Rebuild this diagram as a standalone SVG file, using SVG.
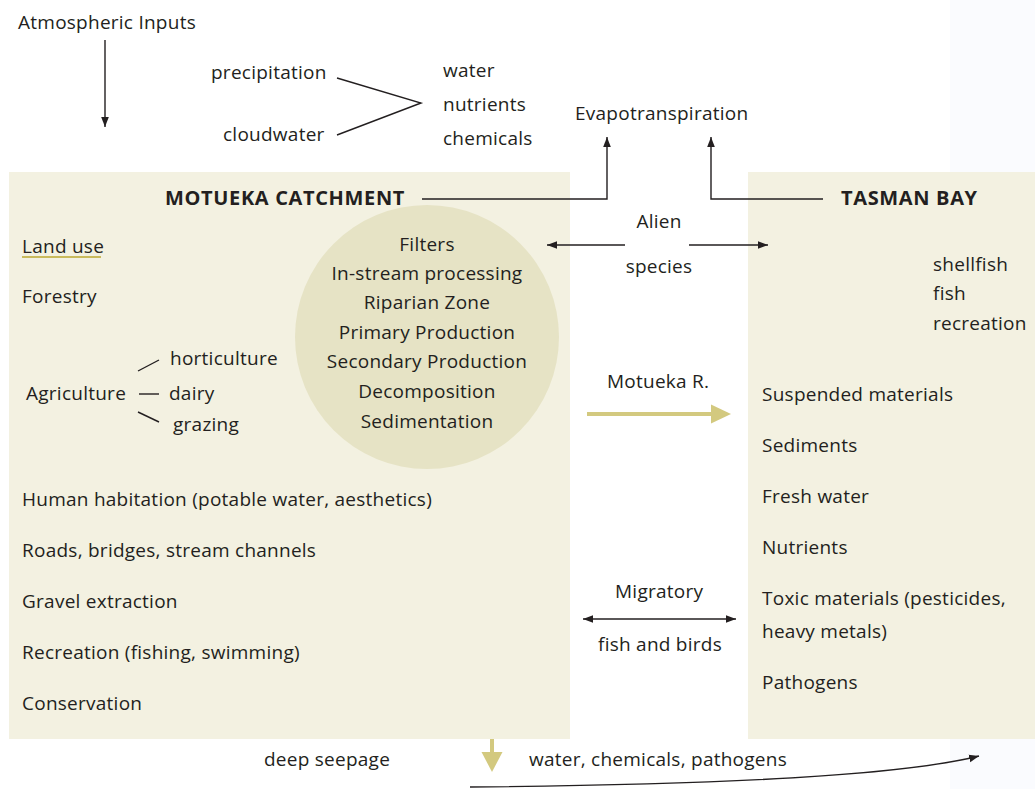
<svg xmlns="http://www.w3.org/2000/svg" width="1035" height="789" viewBox="0 0 1035 789">
<defs>
<style>
text{font-family:"Open Sans","Noto Sans","Liberation Sans",sans-serif;font-size:19px;fill:#231f20;letter-spacing:0.25px}
.b{font-weight:bold;font-size:20px;letter-spacing:0.65px}
.m{text-anchor:middle}
.ln{stroke:#231f20;stroke-width:1.4;fill:none}
.g{stroke:#d3c97f;stroke-width:4;fill:none}
</style>
<marker id="ah" viewBox="0 0 10 10" refX="10" refY="5" markerWidth="10" markerHeight="10" markerUnits="userSpaceOnUse" orient="auto-start-reverse">
<path d="M0,1.2 L10,5 L0,8.8 Z" fill="#231f20"/>
</marker>
</defs>
<rect x="0" y="0" width="1035" height="789" fill="#ffffff"/>
<rect x="950" y="0" width="85" height="789" fill="#fafbfe"/>
<g id="motueka-catchment">
<rect x="9" y="172" width="561" height="567" fill="#f3f1e1"/>
<text class="b" x="165" y="205">MOTUEKA CATCHMENT</text>
<text x="22" y="253">Land use</text>
<line x1="22" y1="257" x2="101" y2="257" stroke="#bba72f" stroke-width="1.3"/>
<text x="22" y="303">Forestry</text>
<text x="26" y="400">Agriculture</text>
<text x="170" y="365">horticulture</text>
<text x="169" y="400">dairy</text>
<text x="173" y="431">grazing</text>
<line class="ln" x1="138" y1="371" x2="159" y2="360"/>
<line class="ln" x1="139" y1="394" x2="159" y2="394"/>
<line class="ln" x1="138" y1="412" x2="159" y2="422"/>
<text x="22" y="506">Human habitation (potable water, aesthetics)</text>
<text x="22" y="557">Roads, bridges, stream channels</text>
<text x="22" y="608">Gravel extraction</text>
<text x="22" y="659">Recreation (fishing, swimming)</text>
<text x="22" y="710">Conservation</text>
</g>
<g id="filters">
<circle cx="427" cy="337" r="132" fill="#e6e3c5"/>
<text class="m" x="427" y="251">Filters</text>
<text class="m" x="427" y="280">In-stream processing</text>
<text class="m" x="427" y="309">Riparian Zone</text>
<text class="m" x="427" y="339">Primary Production</text>
<text class="m" x="427" y="368">Secondary Production</text>
<text class="m" x="427" y="398">Decomposition</text>
<text class="m" x="427" y="428">Sedimentation</text>
</g>
<g id="tasman-bay">
<rect x="748" y="172" width="287" height="567" fill="#f3f1e1"/>
<text class="b" x="841" y="205">TASMAN BAY</text>
<text x="933" y="271">shellfish</text>
<text x="933" y="300">fish</text>
<text x="933" y="330">recreation</text>
<text x="762" y="401">Suspended materials</text>
<text x="762" y="452">Sediments</text>
<text x="762" y="503">Fresh water</text>
<text x="762" y="554">Nutrients</text>
<text x="762" y="605">Toxic materials (pesticides,</text>
<text x="762" y="638">heavy metals)</text>
<text x="762" y="689">Pathogens</text>
</g>
<g id="atmospheric-inputs">
<text x="18" y="29">Atmospheric Inputs</text>
<text x="211" y="79">precipitation</text>
<text x="223" y="141">cloudwater</text>
<text x="443" y="77">water</text>
<text x="443" y="111">nutrients</text>
<text x="443" y="145">chemicals</text>
</g>
<g id="evapotranspiration">
<text x="575" y="120">Evapotranspiration</text>
</g>
<g id="labels">
<text class="m" x="659" y="228">Alien</text>
<text class="m" x="659" y="273">species</text>
<text x="607" y="388">Motueka R.</text>
<text x="615" y="598">Migratory</text>
<text x="598" y="651">fish and birds</text>
<text x="264" y="766">deep seepage</text>
<text x="529" y="766">water, chemicals, pathogens</text>
</g>
<g id="connectors">
<line class="ln" x1="105" y1="40" x2="105" y2="127" marker-end="url(#ah)"/>
<polyline class="ln" points="337,78 421,103 337,135"/>
<polyline class="ln" points="422,199 607,199 607,137" marker-end="url(#ah)"/>
<polyline class="ln" points="823,199 711,199 711,137" marker-end="url(#ah)"/>
<line class="ln" x1="625" y1="245" x2="547" y2="245" marker-end="url(#ah)"/>
<line class="ln" x1="689" y1="245" x2="768" y2="245" marker-end="url(#ah)"/>
<line class="ln" x1="583" y1="619" x2="736" y2="619" marker-start="url(#ah)" marker-end="url(#ah)"/>
<line class="g" x1="587" y1="414" x2="713" y2="414"/>
<path d="M711,404.5 L731,414 L711,423.5 Z" fill="#d3c97f"/>
<line class="g" x1="492" y1="739" x2="492" y2="754"/>
<path d="M481.5,752 L492,772 L502.5,752 Z" fill="#d3c97f"/>
<path class="ln" d="M470,787 C700,785 900,776 979,756" marker-end="url(#ah)"/>
</g>
</svg>
